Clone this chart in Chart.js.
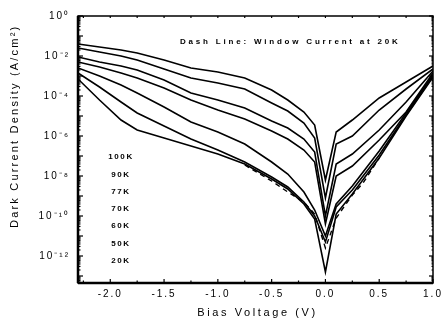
<!DOCTYPE html>
<html>
<head>
<meta charset="utf-8">
<script src="https://cdn.jsdelivr.net/npm/chart.js@4.4.1/dist/chart.umd.min.js"></script>
<style>
  html, body { margin: 0; padding: 0; background: #fff; }
  #wrap { width: 445px; height: 320px; position: relative; }
</style>
</head>
<body>
<div id="wrap"><canvas id="darkChart"></canvas></div>
<script>
// bias voltage (V) shared by the solid curves
const voltage = [-2.3, -2.1, -1.9, -1.75, -1.5, -1.25, -1.0, -0.75, -0.5, -0.35, -0.2, -0.1, 0, 0.1, 0.25, 0.5, 0.75, 1.0];

// log10 of dark current density
const j100K = [-1.4, -1.55, -1.7, -1.85, -2.2, -2.6, -2.8, -3.1, -3.7, -4.2, -4.8, -5.45, -8.2, -5.8, -5.2, -4.1, -3.3, -2.5];
const j90K  = [-1.6, -1.8, -2.0, -2.2, -2.65, -3.1, -3.35, -3.65, -4.35, -4.75, -5.35, -6.1, -9.1, -6.4, -6.0, -4.7, -3.65, -2.65];
const j77K  = [-2.05, -2.3, -2.5, -2.7, -3.2, -3.85, -4.2, -4.6, -5.25, -5.6, -6.15, -6.8, -10.0, -7.4, -6.9, -5.7, -4.3, -2.75];
const j70K  = [-2.3, -2.55, -2.85, -3.1, -3.6, -4.2, -4.7, -5.15, -5.75, -6.15, -6.7, -7.3, -10.4, -8.0, -7.5, -6.2, -4.8, -2.85];
const j60K  = [-2.6, -3.0, -3.45, -3.85, -4.55, -5.3, -5.8, -6.4, -7.3, -7.9, -8.8, -9.7, -11.0, -9.4, -8.5, -6.75, -4.85, -2.95];
const j50K  = [-2.85, -3.55, -4.3, -4.85, -5.5, -6.15, -6.7, -7.3, -8.05, -8.55, -9.3, -10.0, -11.3, -9.55, -8.7, -6.95, -4.95, -3.0];
const j20K  = [-3.15, -4.2, -5.2, -5.7, -6.1, -6.5, -6.9, -7.4, -8.15, -8.65, -9.4, -10.15, -12.8, -9.9, -8.9, -7.1, -5.0, -3.05];

// dashed window current at 20K
const windowV = [-0.75, -0.5, -0.35, -0.2, -0.1, 0, 0.1, 0.25, 0.35, 0.5];
const jWindow20K = [-7.45, -8.25, -8.8, -9.3, -9.9, -11.6, -10.1, -8.95, -8.35, -7.1];

const legendLabels = ['100K', '90K', '77K', '70K', '60K', '50K', '20K'];
const xTickValues = [-2.0, -1.5, -1.0, -0.5, 0.0, 0.5, 1.0];
const yTickExponents = [0, -2, -4, -6, -8, -10, -12];

const supers = { '-': '\u207B', '0': '\u2070', '1': '\u00B9', '2': '\u00B2', '4': '\u2074', '6': '\u2076', '8': '\u2078' };
function powLabel(e) {
    return '10' + String(e).split('').map(c => supers[c]).join('');
}

function toPoints(xs, logs) {
    return xs.map((v, i) => ({ x: v, y: Math.pow(10, logs[i]) }));
}

const solidSeries = [j100K, j90K, j77K, j70K, j60K, j50K, j20K];
const datasets = solidSeries.map((s, i) => ({
    label: legendLabels[i],
    data: toPoints(voltage, s),
    borderColor: '#000',
    borderWidth: 1.6,
    pointRadius: 0,
    tension: 0,
    fill: false
}));
datasets.push({
    label: 'Window Current at 20K',
    data: toPoints(windowV, jWindow20K),
    borderColor: '#000',
    borderWidth: 1.4,
    borderDash: [5, 4],
    pointRadius: 0,
    tension: 0,
    fill: false
});

const FONT = '"Liberation Sans", Arial, sans-serif';

// frame, inward ticks and free text
const decorPlugin = {
    id: 'decor',
    beforeDraw(chart) {
        chart.ctx.letterSpacing = '2px';
    },
    afterDraw(chart) {
        const ctx = chart.ctx;
        const { left, right, top, bottom } = chart.chartArea;
        const xs = chart.scales.x, ys = chart.scales.y;
        ctx.save();
        ctx.strokeStyle = '#000';
        ctx.lineWidth = 1.5;
        ctx.strokeRect(left, top, right - left, bottom - top);
        ctx.lineWidth = 2.5;
        ctx.beginPath(); ctx.moveTo(left, top); ctx.lineTo(left, bottom); ctx.stroke();
        ctx.beginPath(); ctx.moveTo(left, bottom); ctx.lineTo(right, bottom); ctx.stroke();

        // x ticks every 0.25 V
        ctx.lineWidth = 1.2;
        for (let v = -2.25; v <= 1.0001; v += 0.25) {
            const px = xs.getPixelForValue(v);
            const len = Math.abs(v * 2 - Math.round(v * 2)) < 1e-6 ? 4 : 2.5;
            ctx.beginPath(); ctx.moveTo(px, bottom); ctx.lineTo(px, bottom - len); ctx.stroke();
            ctx.beginPath(); ctx.moveTo(px, top); ctx.lineTo(px, top + 2); ctx.stroke();
        }
        // y ticks per decade
        for (let e = 0; e >= -14; e--) {
            for (let k = 1; k <= 9; k++) {
                const val = k * Math.pow(10, e);
                if (val > ys.max || val < ys.min) continue;
                const py = ys.getPixelForValue(val);
                const len = k === 1 ? 5 : 2.5;
                ctx.beginPath(); ctx.moveTo(left, py); ctx.lineTo(left + len, py); ctx.stroke();
                ctx.beginPath(); ctx.moveTo(right, py); ctx.lineTo(right - len + 1, py); ctx.stroke();
            }
        }

        ctx.fillStyle = '#000';
        // temperature list
        ctx.font = 'bold 8px ' + FONT;
        ctx.letterSpacing = '1.6px';
        ctx.textAlign = 'center';
        ctx.textBaseline = 'middle';
        legendLabels.forEach((t, i) => {
            ctx.fillText(t, left + 43, top + 141 + i * 17.3);
        });

        // note
        ctx.font = 'bold 8px ' + FONT;
        ctx.letterSpacing = '2.8px';
        ctx.textAlign = 'left';
        ctx.fillText('Dash Line: Window Current at 20K', 180, 42);

        // axis titles
        ctx.font = '11px ' + FONT;
        ctx.letterSpacing = '2.6px';
        ctx.textAlign = 'center';
        ctx.fillText('Bias Voltage (V)', (left + right) / 2 + 2, 313);

        ctx.translate(15, 228);
        ctx.rotate(-Math.PI / 2);
        ctx.textAlign = 'left';
        ctx.letterSpacing = '2.2px';
        ctx.fillText('Dark Current Density (A/cm\u00B2)', 0, 0);
        ctx.restore();
        ctx.letterSpacing = '0px';
    }
};

new Chart(document.getElementById('darkChart'), {
    type: 'line',
    data: { datasets },
    options: {
        responsive: true,
        maintainAspectRatio: false,
        animation: false,
        layout: { padding: { top: 16, right: 12, left: 0, bottom: 0 } },
        plugins: { legend: { display: false }, tooltip: { enabled: false } },
        scales: {
            x: {
                type: 'linear',
                min: -2.3,
                max: 1.0,
                grid: { display: false, drawTicks: false },
                border: { display: false },
                afterBuildTicks: s => { s.ticks = xTickValues.map(v => ({ value: v })); },
                afterFit: s => { s.height = 37; },
                ticks: {
                    color: '#000',
                    padding: 5,
                    maxRotation: 0,
                    autoSkip: false,
                    font: { family: FONT, size: 10 },
                    callback: v => Number(v).toFixed(1)
                }
            },
            y: {
                type: 'logarithmic',
                min: Math.pow(10, -13.35),
                max: 1,
                grid: { display: false, drawTicks: false },
                border: { display: false },
                afterBuildTicks: s => { s.ticks = yTickExponents.map(e => ({ value: Math.pow(10, e) })); },
                afterFit: s => { s.width = 78; },
                ticks: {
                    color: '#000',
                    padding: 8,
                    autoSkip: false,
                    font: { family: FONT, size: 10 },
                    callback: v => powLabel(Math.round(Math.log10(v)))
                }
            }
        }
    },
    plugins: [decorPlugin]
});
</script>
</body>
</html>
